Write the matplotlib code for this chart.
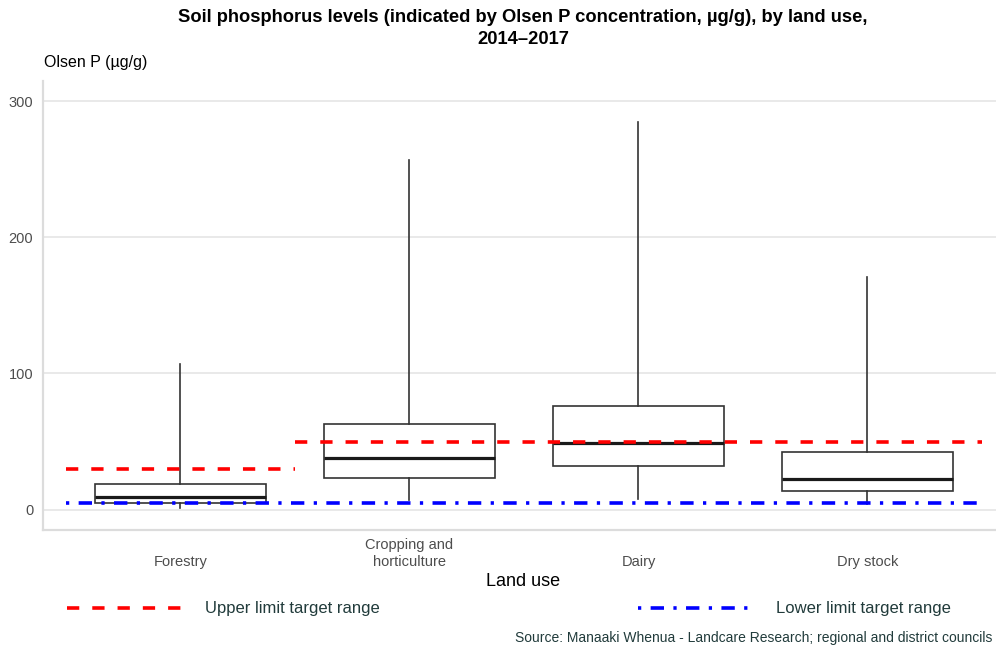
import matplotlib
matplotlib.use('Agg')
import matplotlib.pyplot as plt

plt.rcParams['font.family'] = ['Liberation Sans', 'DejaVu Sans']

# Box plot summary values (Olsen P, ug/g)
land_use = ['Forestry', 'Cropping and\nhorticulture', 'Dairy', 'Dry stock']
whisker_low = [1.5, 7.3, 8.0, 4.4]
q1 = [4.9, 23.5, 32.3, 13.7]
median = [9.3, 37.7, 49.2, 22.3]
q3 = [19.1, 63.2, 76.1, 42.6]
whisker_high = [107, 256.6, 285, 171]

# Target range limits (value, x start, x end)
upper_limits = [(30, -0.5, 0.5), (50, 0.5, 3.5)]
lower_limit = (5, -0.5, 3.5)

yticks = [0, 100, 200, 300]

fig = plt.figure(figsize=(9.96, 6.48), dpi=100)
ax = fig.add_axes([0.0432, 0.1821, 0.9657, 0.6931])

stats = []
for i in range(len(land_use)):
    stats.append(dict(med=median[i], q1=q1[i], q3=q3[i],
                      whislo=whisker_low[i], whishi=whisker_high[i], label=land_use[i]))

box_col = '#333333'
ax.bxp(stats, positions=range(len(land_use)), widths=0.75, showcaps=False, showfliers=False,
       patch_artist=True,
       boxprops=dict(facecolor='white', edgecolor=box_col, linewidth=1.2),
       whiskerprops=dict(color=box_col, linewidth=1.2),
       medianprops=dict(color='#1a1a1a', linewidth=2.3),
       zorder=2)

red_line = None
for val, x0, x1 in upper_limits:
    red_line, = ax.plot([x0, x1], [val, val], color='#ff0000', linewidth=2.6,
                        linestyle=(0, (3.4, 3.6)), zorder=4)
blue_line, = ax.plot([lower_limit[1], lower_limit[2]], [lower_limit[0]] * 2, color='#0000ff',
                     linewidth=2.6, linestyle=(0, (0.9, 2.6, 3.7, 2.6)), zorder=4)

ax.set_xlim(-0.6, 3.6)
ax.set_ylim(-15, 315)
ax.set_yticks(yticks)
ax.set_yticklabels([str(t) for t in yticks])
ax.grid(axis='y', color='#e3e3e3', linewidth=1.1, zorder=0)
ax.set_axisbelow(True)
for s in ['top', 'right']:
    ax.spines[s].set_visible(False)
for s in ['left', 'bottom']:
    ax.spines[s].set_color('#dcdcdc')
    ax.spines[s].set_linewidth(1.6)

ax.tick_params(axis='both', length=0, colors='#4d4d4d')
ax.tick_params(axis='y', labelsize=10.5, pad=7)
ax.set_xticks(range(len(land_use)))
ax.set_xticklabels(land_use, fontsize=10.5, color='#4d4d4d', linespacing=1.3)
for lab in ax.get_xticklabels():
    lab.set_verticalalignment('bottom')
ax.tick_params(axis='x', pad=28)

ax.set_xlabel('Land use', fontsize=13, color='black')
ax.xaxis.set_label_coords((523 - 43) / (0.9657 * 996), -(582 - 530) / (0.6931 * 648))
ax.xaxis.label.set_verticalalignment('center')

fig.text(44 / 996, 1 - 63 / 648, 'Olsen P (\u00b5g/g)', fontsize=11.5, va='center', ha='left')

fig.text(523 / 996, 1 - 9 / 648,
         'Soil phosphorus levels (indicated by Olsen P concentration, \u00b5g/g), by land use,\n2014\u20132017',
         fontsize=13.2, fontweight='bold', ha='center', va='top', linespacing=1.4)

legend_col = '#213b3b'
fig.legend(handles=[red_line], labels=['Upper limit target range'], loc='center left',
           bbox_to_anchor=(67 / 996, 1 - 609 / 648), frameon=False, borderpad=0,
           borderaxespad=0, handlelength=6.9, handletextpad=1.35, fontsize=12,
           labelcolor=legend_col)
fig.legend(handles=[blue_line], labels=['Lower limit target range'], loc='center left',
           bbox_to_anchor=(638 / 996, 1 - 609 / 648), frameon=False, borderpad=0,
           borderaxespad=0, handlelength=6.9, handletextpad=1.35, fontsize=12,
           labelcolor=legend_col)

fig.text(0.996, 1 - 638 / 648,
         'Source: Manaaki Whenua - Landcare Research; regional and district councils',
         fontsize=10, color=legend_col, ha='right', va='center')

fig.savefig('out.png', dpi=100)
